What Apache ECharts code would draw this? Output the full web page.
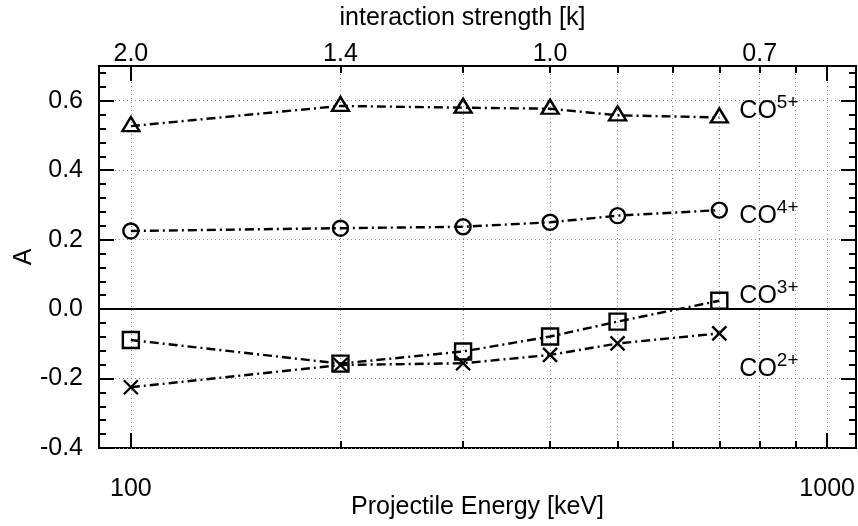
<!DOCTYPE html>
<html>
<head>
<meta charset="utf-8">
<script src="https://cdn.jsdelivr.net/npm/echarts@6/dist/echarts.min.js"></script>
<style>html,body{margin:0;padding:0;background:#fff}#c{width:858px;height:526px}</style>
</head>
<body>
<div id="c"></div>
<script>
// ---- data ----
const energies = [100, 200, 300, 400, 500, 700];
const co5 = [0.527, 0.585, 0.580, 0.577, 0.558, 0.552];
const co4 = [0.225, 0.233, 0.237, 0.250, 0.269, 0.285];
const co3 = [-0.089, -0.157, -0.122, -0.079, -0.036, 0.024];
const co2 = [-0.225, -0.161, -0.156, -0.132, -0.099, -0.070];

const bottomMajorTicks = [100, 1000];
const bottomMinorTicks = [200, 300, 400, 500, 600, 700, 800, 900];
const topLabelValues = [100, 200, 400, 800];
const topLabelTexts = ['2.0', '1.4', '1.0', '0.7'];
const yMajorTicks = [-0.4, -0.2, 0.0, 0.2, 0.4, 0.6];
const yMinorTicks = [-0.36, -0.32, -0.28, -0.24, -0.16, -0.12, -0.08, -0.04,
  0.04, 0.08, 0.12, 0.16, 0.24, 0.28, 0.32, 0.36, 0.44, 0.48, 0.52, 0.56, 0.64, 0.68];

const seriesNames = ['CO', 'CO', 'CO', 'CO'];
const seriesCharges = ['5+', '4+', '3+', '2+'];
const labelX = [748, 748, 748, 748];
const labelY = [0.578, 0.275, 0.046, -0.165];

// ---- chart ----
const FONT = "'Liberation Sans', Arial, Helvetica, sans-serif";
const chart = echarts.init(document.getElementById('c'), null, {renderer: 'canvas'});
const dotted = {show: true, lineStyle: {color: '#8a8a8a', width: 1, type: [1, 3]}};
const txt = {color: '#000', fontFamily: FONT, fontSize: 25};

function xAx(pos, ticks, len, extra) {
  return Object.assign({
    type: 'log', logBase: 10, min: 90, max: 1100, position: pos,
    axisLine: {show: false, onZero: false},
    axisTick: {show: true, inside: true, length: len, customValues: ticks, lineStyle: {color: '#000', width: 2}},
    axisLabel: {show: false},
    splitLine: {show: false},
    minorTick: {show: false}, minorSplitLine: {show: false}
  }, extra || {});
}
function yAx(pos, ticks, len, extra) {
  return Object.assign({
    type: 'value', min: -0.4, max: 0.7, position: pos,
    axisLine: {show: false, onZero: false},
    axisTick: {show: true, inside: true, length: len, customValues: ticks, lineStyle: {color: '#000', width: 2}},
    axisLabel: {show: false},
    splitLine: {show: false}
  }, extra || {});
}

const markerStyle = {color: 'transparent', borderColor: '#000', borderWidth: 2.4};
const lineSt = {color: '#000', width: 2.4, type: [9, 4, 2, 4]};
function mk(vals, symbol, size, offset) {
  return {
    type: 'line', xAxisIndex: 0, yAxisIndex: 0,
    data: energies.map((e, i) => [e, vals[i]]),
    symbol: symbol, symbolSize: size, symbolOffset: offset || [0, 0], showAllSymbol: true,
    itemStyle: markerStyle, lineStyle: lineSt, z: 5
  };
}

const labelData = labelX.map((x, i) => ({
  value: [x, labelY[i]],
  label: {formatter: '{m|' + seriesNames[i] + '}{s|' + seriesCharges[i] + '}'}
}));

chart.setOption({
  animation: false,
  backgroundColor: '#fff',
  grid: {left: 99, right: 2, top: 66, bottom: 78, show: true, borderColor: '#000', borderWidth: 2,
    backgroundColor: 'transparent', containLabel: false, outerBoundsMode: 'none'},
  xAxis: [
    xAx('bottom', bottomMajorTicks, 15, {
      axisLabel: Object.assign({show: true, customValues: bottomMajorTicks, margin: 29,
        formatter: v => String(Math.round(v))}, txt),
      splitLine: dotted,
      name: 'Projectile Energy [keV]', nameLocation: 'middle', nameGap: 47, nameMoveOverlap: false,
      nameTextStyle: txt
    }),
    xAx('bottom', bottomMinorTicks, 7, {splitLine: dotted}),
    xAx('top', bottomMajorTicks, 15, {
      axisLabel: Object.assign({show: true, customValues: topLabelValues, margin: -1,
        formatter: v => {
          const i = topLabelValues.findIndex(t => Math.abs(t - v) < 1e-3 * t);
          return i >= 0 ? topLabelTexts[i] : '';
        }}, txt),
      name: 'interaction strength [k]', nameLocation: 'middle', nameGap: 35, nameMoveOverlap: false,
      nameTextStyle: Object.assign({padding: [0, 30, 0, 0]}, txt)
    }),
    xAx('top', bottomMinorTicks, 7)
  ],
  yAxis: [
    yAx('left', yMajorTicks, 15, {
      axisLabel: Object.assign({show: true, customValues: yMajorTicks, margin: 16,
        formatter: v => v.toFixed(1)}, txt),
      splitLine: dotted,
      name: 'A', nameLocation: 'middle', nameGap: 62, nameMoveOverlap: false, nameTextStyle: txt
    }),
    yAx('left', yMinorTicks, 7),
    yAx('right', yMajorTicks, 15),
    yAx('right', yMinorTicks, 7)
  ],
  series: [
    Object.assign(mk(co5, 'triangle', [17, 14], [0, -2]), {
      markLine: {silent: true, symbol: 'none', label: {show: false},
        lineStyle: {color: '#000', width: 2, type: 'solid', opacity: 1}, data: [{yAxis: 0}]}
    }),
    mk(co4, 'circle', 15),
    mk(co3, 'rect', 16),
    mk(co2, 'path://M0,0L10,10M10,0L0,10', 14),
    {
      type: 'scatter', xAxisIndex: 0, yAxisIndex: 0, symbolSize: 0, silent: true,
      itemStyle: {opacity: 1, color: '#000'},
      data: labelData,
      label: {
        show: true, position: 'right', distance: 0, color: '#000', opacity: 1,
        rich: {
          m: {fontSize: 25, fontFamily: FONT, color: '#000', lineHeight: 30, verticalAlign: 'bottom'},
          s: {fontSize: 19, fontFamily: FONT, color: '#000', verticalAlign: 'top', lineHeight: 19}
        }
      },
      z: 6
    }
  ]
});
</script>
</body>
</html>
